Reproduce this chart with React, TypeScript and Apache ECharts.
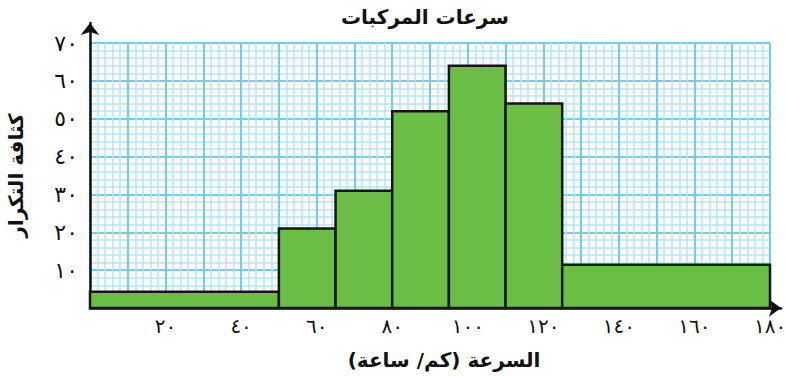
import React, { useEffect, useRef } from 'react';
import * as echarts from 'echarts';

const classStarts = [0, 50, 65, 80, 95, 110, 125];
const classEnds = [50, 65, 80, 95, 110, 125, 180];
const densities = [4.3, 21, 31, 52, 64, 54, 11.4];
const xTickValues = [20, 40, 60, 80, 100, 120, 140, 160, 180];
const xTickLabels = ['٢٠', '٤٠', '٦٠', '٨٠', '١٠٠', '١٢٠', '١٤٠', '١٦٠', '١٨٠'];
const yTickValues = [10, 20, 30, 40, 50, 60, 70];
const yTickLabels = ['١٠', '٢٠', '٣٠', '٤٠', '٥٠', '٦٠', '٧٠'];
const titleText = 'سرعات المركبات';
const xName = 'السرعة (كم/ ساعة)';
const yName = 'كثافة التكرار';

const FONT = '"DejaVu Sans", "Noto Sans", sans-serif';

export default function App() {
  const ref = useRef<HTMLDivElement>(null);
  useEffect(() => {
    if (!ref.current) return;
    const chart = echarts.init(ref.current, undefined, { renderer: 'svg' });
    const data = classStarts.map((s, i) => [s, classEnds[i], densities[i]]);
    chart.setOption({
      animation: false,
      backgroundColor: '#ffffff',
      title: {
        text: titleText,
        left: 420,
        top: 2,
        textAlign: 'center',
        textStyle: { fontFamily: FONT, fontSize: 20, fontWeight: 'bold', color: '#111' },
      },
      grid: [
        { left: 90, right: 16, top: 43, bottom: 69, containLabel: false, outerBoundsMode: 'none' },
        { left: 90, right: 5, top: 23, bottom: 69, containLabel: false, outerBoundsMode: 'none' },
      ],
      xAxis: [
        {
          type: 'value',
          gridIndex: 0,
          min: 0,
          max: 180,
          interval: 10,
          axisLine: { show: false },
          axisTick: { show: false },
          axisLabel: {
            show: true,
            margin: 8,
            fontFamily: FONT,
            fontSize: 20,
            color: '#111',
            formatter: (v: number) => {
              const i = xTickValues.indexOf(v);
              return i >= 0 ? xTickLabels[i] : '';
            },
          },
          splitLine: { show: true, lineStyle: { color: '#6dcdf3', width: 2 } },
          minorTick: { show: false, splitNumber: 5 },
          minorSplitLine: { show: true, lineStyle: { color: '#b6e4f8', width: 1.5 } },
          name: xName,
          nameLocation: 'middle',
          nameGap: 42,
          nameTextStyle: {
            fontFamily: FONT,
            fontSize: 20,
            fontWeight: 'bold',
            color: '#111',
            padding: [0, 0, 0, 28],
          },
        },
        {
          type: 'value',
          gridIndex: 1,
          min: 0,
          max: 1,
          axisLine: {
            show: true,
            symbol: ['none', 'arrow'],
            symbolSize: [13, 12],
            lineStyle: { color: '#111', width: 2.5 },
          },
          axisTick: { show: false },
          axisLabel: { show: false },
          splitLine: { show: false },
        },
      ],
      yAxis: [
        {
          type: 'value',
          gridIndex: 0,
          min: 0,
          max: 70,
          interval: 10,
          axisLine: { show: false },
          axisTick: { show: false },
          axisLabel: {
            show: true,
            margin: 12,
            fontFamily: FONT,
            fontSize: 22,
            color: '#111',
            formatter: (v: number) => {
              const i = yTickValues.indexOf(v);
              return i >= 0 ? yTickLabels[i] : '';
            },
          },
          splitLine: { show: true, lineStyle: { color: '#6dcdf3', width: 2 } },
          minorTick: { show: false, splitNumber: 5 },
          minorSplitLine: { show: true, lineStyle: { color: '#b6e4f8', width: 1.5 } },
          name: yName,
          nameLocation: 'middle',
          nameRotate: 90,
          nameGap: 64,
          nameTextStyle: { fontFamily: FONT, fontSize: 20, fontWeight: 'bold', color: '#111' },
        },
        {
          type: 'value',
          gridIndex: 1,
          min: 0,
          max: 1,
          axisLine: {
            show: true,
            symbol: ['none', 'arrow'],
            symbolSize: [14, 12],
            lineStyle: { color: '#111', width: 2.5 },
          },
          axisTick: { show: false },
          axisLabel: { show: false },
          splitLine: { show: false },
        },
      ],
      series: [
        {
          type: 'custom',
          xAxisIndex: 0,
          yAxisIndex: 0,
          encode: { x: [0, 1], y: 2 },
          data,
          renderItem: (params: any, api: any) => {
            const s = api.value(0);
            const e = api.value(1);
            const v = api.value(2);
            const p0 = api.coord([s, v]);
            const p1 = api.coord([e, 0]);
            return {
              type: 'rect',
              shape: { x: p0[0], y: p0[1], width: p1[0] - p0[0], height: p1[1] - p0[1] },
              style: { fill: '#6abd45', stroke: '#151515', lineWidth: 2.5 },
            };
          },
          z: 3,
        },
      ],
    });
    return () => chart.dispose();
  }, []);
  return (
    <div
      ref={ref}
      style={{ position: 'absolute', left: 0, top: 0, width: 786, height: 377 }}
    />
  );
}
